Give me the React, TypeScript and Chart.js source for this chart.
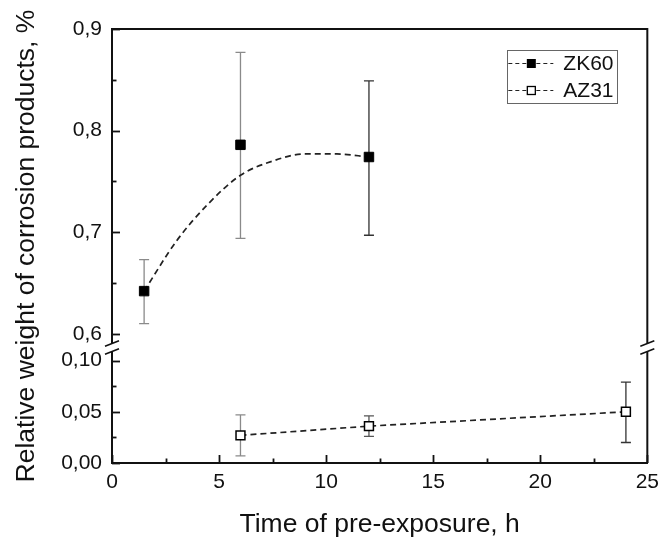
import React, { useEffect, useRef } from 'react';
import { Chart, registerables } from 'chart.js';

Chart.register(...registerables);

// ---------- data ----------
const zk60Hours = [1.5, 6, 12];
const zk60Values = [0.642, 0.786, 0.774];
const zk60ErrLow = [0.61, 0.694, 0.697];
const zk60ErrHigh = [0.673, 0.877, 0.849];

// dashed fit curve of ZK60
const zk60FitHours = [1.5, 3, 4.5, 6, 7.5, 9, 10.5, 12];
const zk60FitValues = [0.642, 0.691, 0.728, 0.756, 0.77, 0.777, 0.777, 0.774];

const az31Hours = [6, 12, 24];
const az31Values = [0.027, 0.036, 0.05];
const az31ErrLow = [0.007, 0.026, 0.02];
const az31ErrHigh = [0.047, 0.046, 0.079];

const xMajorTicks = [0, 5, 10, 15, 20, 25];
const xMinorTicks = [2.5, 7.5, 12.5, 17.5, 22.5];
const upperMajorTicks = [0.6, 0.7, 0.8, 0.9];
const upperMinorTicks = [0.65, 0.75, 0.85];
const lowerMajorTicks = [0, 0.05, 0.1];
const lowerMinorTicks = [0.025, 0.075];

const seriesNames = ['ZK60', 'AZ31'];
const xTitle = 'Time of pre-exposure, h';
const yTitle = 'Relative weight of corrosion products, %';

// ---------- styles ----------
const FONT_FAMILY = '"Liberation Sans", Arial, Helvetica, sans-serif';
const INK = '#111111';
const LINE = '#222222';
const zk60ErrColors = ['#8a8a8a', '#8a8a8a', '#333333'];
const az31ErrColors = ['#8a8a8a', '#555555', '#333333'];

const errorBarSets = [
  { yAxis: 'yTop', hours: zk60Hours, low: zk60ErrLow, high: zk60ErrHigh, colors: zk60ErrColors },
  { yAxis: 'yBot', hours: az31Hours, low: az31ErrLow, high: az31ErrHigh, colors: az31ErrColors },
];

const toPoints = (xs: number[], ys: number[]) => xs.map((x, i) => ({ x, y: ys[i] }));
const comma = (v: number, d: number) => v.toFixed(d).replace('.', ',');

const decorPlugin = {
  id: 'decor',
  beforeDatasetsDraw(chart: any) {
    const ctx = chart.ctx;
    const xs = chart.scales.x;
    ctx.save();
    ctx.lineWidth = 1.3;
    for (const set of errorBarSets) {
      const ys = chart.scales[set.yAxis];
      set.hours.forEach((h, i) => {
        const px = xs.getPixelForValue(h);
        const pl = ys.getPixelForValue(set.low[i]);
        const ph = ys.getPixelForValue(set.high[i]);
        ctx.strokeStyle = set.colors[i];
        ctx.beginPath();
        ctx.moveTo(px, pl);
        ctx.lineTo(px, ph);
        ctx.moveTo(px - 5, pl);
        ctx.lineTo(px + 5, pl);
        ctx.moveTo(px - 5, ph);
        ctx.lineTo(px + 5, ph);
        ctx.stroke();
      });
    }
    ctx.restore();
  },
  afterDraw(chart: any) {
    const ctx = chart.ctx;
    const area = chart.chartArea;
    const xs = chart.scales.x;
    const yTop = chart.scales.yTop;
    const yBot = chart.scales.yBot;
    ctx.save();

    // frame (top and right)
    ctx.strokeStyle = INK;
    ctx.lineWidth = 2;
    ctx.beginPath();
    ctx.moveTo(area.left, area.top);
    ctx.lineTo(area.right, area.top);
    ctx.lineTo(area.right, area.bottom);
    ctx.stroke();

    // inward ticks
    const tickX = (vals: number[], len: number) => {
      for (const v of vals) {
        const px = Math.round(xs.getPixelForValue(v)) + 0.5;
        ctx.beginPath();
        ctx.moveTo(px, area.bottom);
        ctx.lineTo(px, area.bottom - len);
        ctx.stroke();
      }
    };
    const tickY = (scale: any, vals: number[], len: number) => {
      for (const v of vals) {
        const py = Math.round(scale.getPixelForValue(v)) + 0.5;
        ctx.beginPath();
        ctx.moveTo(area.left, py);
        ctx.lineTo(area.left + len, py);
        ctx.stroke();
      }
    };
    ctx.lineWidth = 1.8;
    tickX(xMajorTicks, 8);
    tickX(xMinorTicks, 4.5);
    tickY(yTop, upperMajorTicks, 8);
    tickY(yTop, upperMinorTicks, 4.5);
    tickY(yBot, lowerMajorTicks, 8);
    tickY(yBot, lowerMinorTicks, 4.5);

    // axis break marks
    const j = yTop.bottom;
    for (const bx of [area.left, area.right]) {
      ctx.fillStyle = '#ffffff';
      ctx.fillRect(bx - 3, j - 4, 6, 8);
      ctx.strokeStyle = INK;
      ctx.lineWidth = 1.6;
      ctx.beginPath();
      for (const dy of [-4, 4]) {
        ctx.moveTo(bx - 7, j + dy + 2.7);
        ctx.lineTo(bx + 7, j + dy - 2.7);
      }
      ctx.stroke();
    }

    // legend
    const bw = 110;
    const bh = 53;
    const bx0 = area.right - 30 - bw;
    const by0 = area.top + 21;
    ctx.strokeStyle = '#666666';
    ctx.lineWidth = 1;
    ctx.strokeRect(Math.round(bx0) + 0.5, Math.round(by0) + 0.5, bw, bh);
    const rows = [by0 + 13.5, by0 + 40.5];
    ctx.font = `21px ${FONT_FAMILY}`;
    ctx.textBaseline = 'middle';
    ctx.textAlign = 'left';
    seriesNames.forEach((name, i) => {
      const ry = rows[i];
      ctx.strokeStyle = LINE;
      ctx.lineWidth = 1.2;
      ctx.setLineDash([4, 3]);
      ctx.beginPath();
      ctx.moveTo(bx0 + 1, ry);
      ctx.lineTo(bx0 + 46, ry);
      ctx.stroke();
      ctx.setLineDash([]);
      const mx = bx0 + 24;
      if (i === 0) {
        ctx.fillStyle = '#000000';
        ctx.fillRect(mx - 4.5, ry - 4.5, 9, 9);
      } else {
        ctx.fillStyle = '#ffffff';
        ctx.fillRect(mx - 4, ry - 4, 8, 8);
        ctx.strokeStyle = '#000000';
        ctx.lineWidth = 1.3;
        ctx.strokeRect(mx - 4, ry - 4, 8, 8);
      }
      ctx.fillStyle = INK;
      ctx.fillText(name, bx0 + 56, ry + 1);
    });

    // axis titles
    ctx.fillStyle = INK;
    ctx.font = `26.5px ${FONT_FAMILY}`;
    ctx.textAlign = 'center';
    ctx.textBaseline = 'alphabetic';
    ctx.fillText(xTitle, (area.left + area.right) / 2, 531.5);
    ctx.translate(33.5, (area.top + area.bottom) / 2);
    ctx.rotate(-Math.PI / 2);
    ctx.fillText(yTitle, 0, 0);

    ctx.restore();
  },
};

export default function App() {
  const canvasRef = useRef<HTMLCanvasElement | null>(null);

  useEffect(() => {
    if (!canvasRef.current) return;
    const tickFont = { family: FONT_FAMILY, size: 21 };
    const chart = new Chart(canvasRef.current, {
      type: 'line',
      data: {
        datasets: [
          {
            label: seriesNames[0],
            data: toPoints(zk60Hours, zk60Values),
            yAxisID: 'yTop',
            showLine: false,
            pointStyle: 'rect',
            pointRadius: 6.7,
            pointBackgroundColor: '#000000',
            pointBorderColor: '#000000',
            pointBorderWidth: 1,
          },
          {
            label: 'ZK60 fit',
            data: toPoints(zk60FitHours, zk60FitValues),
            yAxisID: 'yTop',
            borderColor: LINE,
            borderWidth: 1.7,
            borderDash: [6, 4],
            cubicInterpolationMode: 'monotone',
            pointRadius: 0,
            fill: false,
          },
          {
            label: seriesNames[1],
            data: toPoints(az31Hours, az31Values),
            yAxisID: 'yBot',
            borderColor: LINE,
            borderWidth: 1.7,
            borderDash: [6, 4],
            tension: 0,
            pointStyle: 'rect',
            pointRadius: 6.3,
            pointBackgroundColor: '#ffffff',
            pointBorderColor: '#000000',
            pointBorderWidth: 1.5,
            fill: false,
          },
        ],
      } as any,
      options: {
        responsive: false,
        animation: false,
        layout: { padding: { top: 29, right: 15, left: 0, bottom: 0 } },
        plugins: { legend: { display: false }, tooltip: { enabled: false } },
        scales: {
          x: {
            type: 'linear',
            min: 0,
            max: 25,
            afterBuildTicks: (s: any) => {
              s.ticks = xMajorTicks.map((v) => ({ value: v }));
            },
            afterFit: (s: any) => {
              s.height = 74;
            },
            ticks: {
              font: tickFont,
              color: INK,
              padding: 7,
              maxRotation: 0,
              autoSkip: false,
              callback: (v: any) => String(v),
            },
            grid: { display: true, drawOnChartArea: false, drawTicks: false },
            border: { display: true, width: 2, color: INK },
          },
          yBot: {
            type: 'linear',
            position: 'left',
            stack: 'yStack',
            stackWeight: 115.5,
            min: 0,
            max: 0.1128,
            afterBuildTicks: (s: any) => {
              s.ticks = lowerMajorTicks.map((v) => ({ value: v }));
            },
            afterFit: (s: any) => {
              s.width = 112;
            },
            ticks: {
              font: tickFont,
              color: INK,
              padding: 10,
              autoSkip: false,
              callback: (v: any) => comma(Number(v), 2),
            },
            grid: { display: true, drawOnChartArea: false, drawTicks: false },
            border: { display: true, width: 2, color: INK },
          },
          yTop: {
            type: 'linear',
            position: 'left',
            stack: 'yStack',
            stackWeight: 318.5,
            min: 0.5865,
            max: 0.9,
            afterBuildTicks: (s: any) => {
              s.ticks = upperMajorTicks.map((v) => ({ value: v }));
            },
            afterFit: (s: any) => {
              s.width = 112;
            },
            ticks: {
              font: tickFont,
              color: INK,
              padding: 10,
              autoSkip: false,
              callback: (v: any) => comma(Number(v), 1),
            },
            grid: { display: true, drawOnChartArea: false, drawTicks: false },
            border: { display: true, width: 2, color: INK },
          },
        },
      } as any,
      plugins: [decorPlugin],
    });
    return () => chart.destroy();
  }, []);

  return (
    <div style={{ position: 'fixed', left: 0, top: 0, width: 666, height: 537, background: '#ffffff' }}>
      <canvas ref={canvasRef} width={666} height={537} style={{ display: 'block' }} />
    </div>
  );
}
